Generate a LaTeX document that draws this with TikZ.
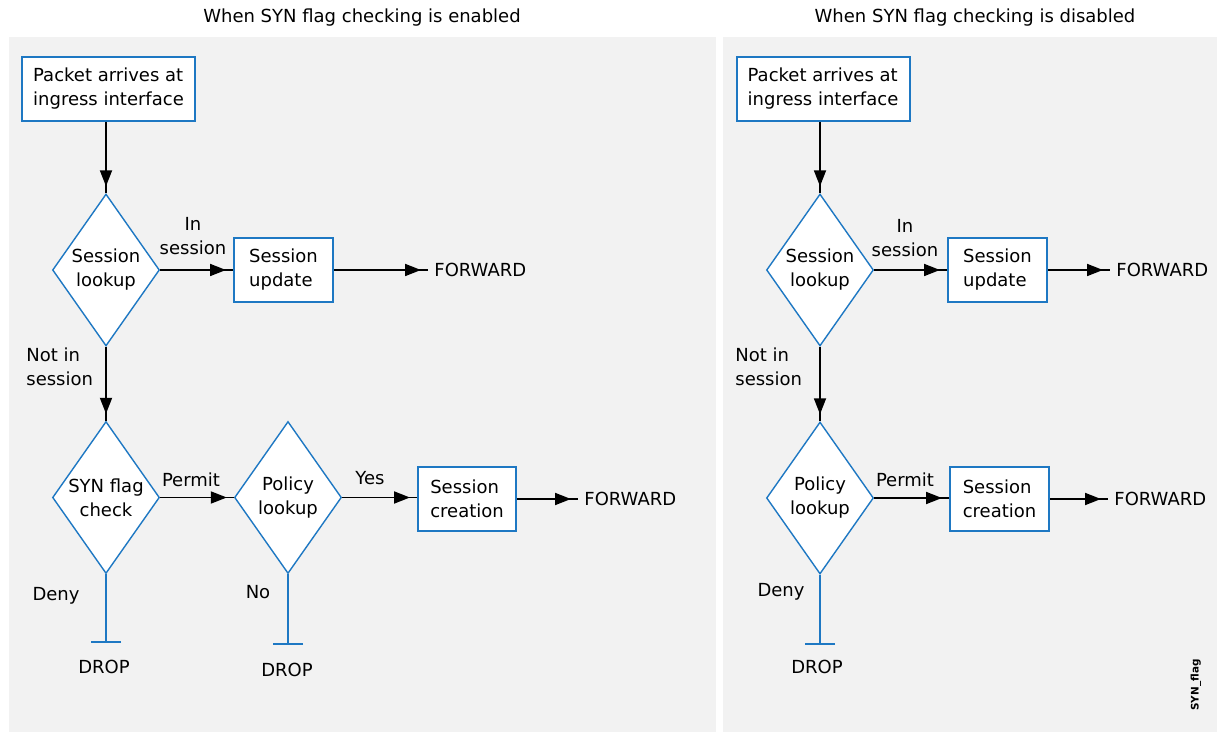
\documentclass[tikz,border=0pt]{standalone}
\usepackage{fontspec}
\setmainfont{DejaVu Sans}
\usetikzlibrary{shapes.geometric,arrows.meta,decorations.markings}
\definecolor{ciscoblue}{RGB}{30,120,195}
\definecolor{panelgray}{RGB}{242,242,242}
\begin{document}
\begin{tikzpicture}[x=0.5pt,y=-0.5pt,
  every node/.style={font=\fontsize{9pt}{12pt}\selectfont, text=black},
  procbox/.style={draw=ciscoblue, line width=1pt, fill=white, rectangle, align=left, inner sep=0pt, minimum height=32pt},
  decision/.style={draw=ciscoblue, line width=0.7pt, fill=white, diamond, aspect=0.7, inner sep=0pt, align=center, minimum width=53.5pt, minimum height=76pt},
  flow/.style={draw=black, line width=0.9pt,
    decoration={markings, mark=at position -3.5pt with {\arrow{Triangle[length=8pt,width=6pt]}}},
    postaction=decorate},
  denyline/.style={draw=ciscoblue, line width=1pt, -{Bar[width=15pt]}},
  lbl/.style={align=center, inner sep=0pt},
  lblL/.style={align=left, inner sep=0pt, anchor=west},
  fwd/.style={anchor=west, inner xsep=3pt, inner ysep=0pt},
]
\useasboundingbox (0,0) rectangle (1217,732);
\fill[white] (0,0) rectangle (1217,732);
\fill[panelgray] (9,37) rectangle (716,732);
\fill[panelgray] (723,37) rectangle (1217,732);

% titles
\node (t1) at (362,18) {When SYN flag checking is enabled};
\node (t2) at (975,18) {When SYN flag checking is disabled};

% ---------- left panel ----------
\node[procbox, minimum width=86.5pt] (pa1) at (108.5,89) {Packet arrives at\\ingress interface};
\node[decision] (sl1) at (106,270) {Session\\lookup};
\node[procbox, minimum width=49.5pt] (su1) at (283.5,270) {Session\\update};
\node[fwd] (f1) at (428,270) {FORWARD};
\node[decision] (sy1) at (106,497.5) {SYN flag\\check};
\node[decision] (pl1) at (288,497.5) {Policy\\lookup};
\node[procbox, minimum width=49pt] (sc1) at (467,499) {Session\\creation};
\node[fwd] (f2) at (578,499) {FORWARD};
\coordinate (d1) at (106,643);
\node (dr1) at (104,667) {DROP};
\coordinate (d2) at (288,645);
\node (dr2) at (287,670) {DROP};

\node[lbl] (in1) at (193,236) {In\\session};
\node[lblL] (ni1) at (26,367) {Not in\\session};
\node[lbl] (pm1) at (191,480) {Permit};
\node[lbl] (ys1) at (370,478) {Yes};
\node[lbl] (dn1) at (56,596) {Deny};
\node[lbl] (no1) at (258,592) {No};

\draw[flow] (pa1.south -| sl1.north) -- (sl1.north);
\draw[flow] (sl1.east) -- (su1.west);
\draw[flow] (su1.east) -- (f1.west);
\draw[flow] (sl1.south) -- (sy1.north);
\draw[flow] (sy1.east) -- (pl1.west);
\draw[flow] (pl1.east) -- (pl1.east -| sc1.west);
\draw[flow] (sc1.east) -- (f2.west);
\draw[denyline] (sy1.south) -- (d1);
\draw[denyline] (pl1.south) -- (d2);

% ---------- right panel ----------
\node[procbox, minimum width=86.5pt] (pa2) at (823,89) {Packet arrives at\\ingress interface};
\node[decision] (sl2) at (820,270) {Session\\lookup};
\node[procbox, minimum width=49.5pt] (su2) at (997.5,270) {Session\\update};
\node[fwd] (f3) at (1110,270) {FORWARD};
\node[decision] (pl2) at (820,498) {Policy\\lookup};
\node[procbox, minimum width=49.5pt] (sc2) at (999.5,499) {Session\\creation};
\node[fwd] (f4) at (1108,499) {FORWARD};
\coordinate (d3) at (820,645);
\node (dr3) at (817,667) {DROP};

\node[lbl] (in2) at (905,238) {In\\session};
\node[lblL] (ni2) at (735,367) {Not in\\session};
\node[lbl] (pm2) at (905,480) {Permit};
\node[lbl] (dn2) at (781,592) {Deny};

\draw[flow] (pa2.south -| sl2.north) -- (sl2.north);
\draw[flow] (sl2.east) -- (su2.west);
\draw[flow] (su2.east) -- (f3.west);
\draw[flow] (sl2.south) -- (pl2.north);
\draw[flow] (pl2.east) -- (pl2.east -| sc2.west);
\draw[flow] (sc2.east) -- (f4.west);
\draw[denyline] (pl2.south) -- (d3);

\node[rotate=90, inner sep=0pt, font=\fontsize{5.2pt}{6pt}\selectfont\bfseries] (tag) at (1196,685) {SYN\_flag};
\end{tikzpicture}
\end{document}
